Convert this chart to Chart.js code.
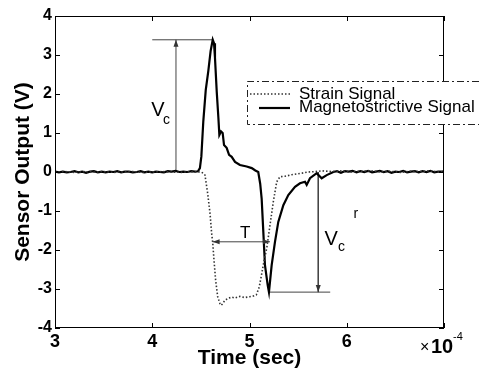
<!DOCTYPE html>
<html>
<head>
<meta charset="utf-8">
<script src="https://cdn.jsdelivr.net/npm/chart.js@4.4.0/dist/chart.umd.min.js"></script>
<style>
html,body{margin:0;padding:0;background:#fff}
#wrap{width:479px;height:371px}
</style>
</head>
<body>
<div id="wrap"><canvas id="chart"></canvas></div>
<script>
// time in units of 1e-4 s, output in V
const magTime = [3.00,3.04,3.08,3.12,3.16,3.20,3.24,3.28,3.32,3.36,3.40,3.44,3.48,3.52,3.56,3.60,3.64,3.68,3.72,3.76,3.80,3.84,3.88,3.92,3.96,4.00,4.04,4.08,4.12,4.16,4.20,4.24,4.28,4.32,4.36,4.40,4.44,4.47,
4.49,4.505,4.525,4.55,4.577,4.60,4.622,4.635,4.645,4.663,4.68,4.69,4.707,4.724,4.738,4.765,4.79,4.817,4.851,4.902,4.971,5.023,5.06,5.09,
5.11,5.125,5.142,5.159,5.187,5.20,5.228,5.262,5.296,5.348,5.399,5.468,5.519,5.571,5.588,5.622,5.691,5.742,5.794,5.862,
5.90,5.94,5.98,6.02,6.06,6.10,6.14,6.18,6.22,6.26,6.30,6.34,6.38,6.42,6.46,6.50,6.54,6.58,6.62,6.66,6.70,6.74,6.78,6.82,6.86,6.90,6.94,6.98,7.00]
const magVolt = [0.01,-0.01,0.01,-0.01,0.00,0.02,-0.01,0.01,-0.02,0.01,0.02,-0.01,0.01,-0.01,0.01,0.00,0.02,-0.01,0.01,0.01,-0.01,0.00,0.02,-0.01,0.01,-0.01,0.01,0.00,-0.01,0.02,0.01,0.03,0.00,0.01,0.00,0.02,0.01,0.02,
0.10,0.40,1.30,2.10,2.60,3.10,3.39,3.30,2.93,2.06,1.39,0.95,1.04,1.00,0.69,0.62,0.44,0.39,0.26,0.18,0.14,0.10,0.04,0.00,
-0.30,-0.68,-1.53,-2.39,-2.90,-3.08,-2.39,-1.79,-1.28,-0.85,-0.59,-0.38,-0.29,-0.25,-0.33,-0.16,-0.03,-0.16,-0.08,0.00,
0.02,-0.02,0.02,0.01,0.03,-0.01,0.02,0.00,0.03,-0.01,0.01,0.03,0.00,0.02,-0.02,0.01,0.00,0.03,-0.01,0.01,0.02,-0.01,0.02,0.00,0.03,-0.01,0.01,0.01,0.02]

const strainTime = [3.00,3.10,3.20,3.30,3.40,3.50,3.60,3.70,3.80,3.90,4.00,4.10,4.20,4.30,4.40,4.50,
4.525,4.542,4.570,4.594,4.611,4.621,4.635,4.652,4.673,4.697,4.71,4.748,4.78,4.817,4.85,4.90,4.95,5.00,5.04,5.07,
5.10,5.125,5.15,5.177,5.211,5.245,5.28,5.314,5.365,5.434,5.537,5.60,5.674,5.75,5.85,5.95,6.05,6.15,6.25,6.35,6.45,6.55,6.65,6.75,6.85,6.95,7.00]
const strainVolt = [0.00,0.01,-0.01,0.01,0.00,0.01,-0.01,0.00,0.01,-0.01,0.00,0.01,0.00,-0.01,0.01,0.00,
-0.03,-0.08,-0.55,-1.06,-1.58,-1.79,-2.26,-2.78,-3.20,-3.38,-3.42,-3.29,-3.24,-3.21,-3.23,-3.19,-3.22,-3.20,-3.18,-3.15,
-2.95,-2.62,-2.27,-1.96,-1.36,-0.76,-0.25,-0.12,-0.11,-0.07,-0.03,0.00,0.01,0.03,0.01,0.03,0.00,0.02,0.03,0.00,0.02,-0.01,0.02,0.01,0.03,0.00,0.01]

const seriesNames = ["Strain Signal","Magnetostrictive Signal"]
const xTicks = [3,4,5,6,7]
const yTicks = [-4,-3,-2,-1,0,1,2,3,4]

// guide lines
const vcLineX = [4.0,4.622], vcLineY = [3.39,3.39]
const vcArrowX = [4.244,4.244], vcArrowY = [0,3.39]
const tArrowX = [4.621,5.21], tArrowY = [-1.79,-1.79]
const vcrLineX = [5.2,5.83], vcrLineY = [-3.08,-3.08]
const vcrArrowX = [5.707,5.707], vcrArrowY = [0,-3.08]

function pts(xs,ys){
return xs.map((x,i)=>({x:x,y:ys[i]}))
}

function guide(xs,ys){
return {data:pts(xs,ys),borderColor:"#444",borderWidth:1,pointRadius:0,tension:0}
}

Chart.defaults.font.family = "'Liberation Sans', Arial, sans-serif"
Chart.defaults.color = "#000"

function arrow(ctx,x,y,dir){
const L=7,W=2.5
ctx.beginPath()
ctx.moveTo(x,y)
if(dir=="up"){ctx.lineTo(x-W,y+L);ctx.lineTo(x+W,y+L)}
if(dir=="down"){ctx.lineTo(x-W,y-L);ctx.lineTo(x+W,y-L)}
if(dir=="left"){ctx.lineTo(x+L,y-W);ctx.lineTo(x+L,y+W)}
if(dir=="right"){ctx.lineTo(x-L,y-W);ctx.lineTo(x-L,y+W)}
ctx.closePath()
ctx.fill()
}

const frame = {
id:"frame",
afterDraw(chart){
const ctx = chart.ctx
const a = chart.chartArea
const xs = chart.scales.x, ys = chart.scales.y
ctx.save()
ctx.strokeStyle="#000"
ctx.fillStyle="#000"
ctx.lineWidth=1
ctx.strokeRect(a.left+0.5,a.top+0.5,a.right-a.left-1,a.bottom-a.top-1)

ctx.beginPath()
xTicks.forEach(v=>{
const px=Math.round(xs.getPixelForValue(v))+0.5
ctx.moveTo(px,a.bottom);ctx.lineTo(px,a.bottom-5)
ctx.moveTo(px,a.top);ctx.lineTo(px,a.top+5)
})
yTicks.forEach(v=>{
const py=Math.round(ys.getPixelForValue(v))+0.5
ctx.moveTo(a.left,py);ctx.lineTo(a.left+5,py)
ctx.moveTo(a.right,py);ctx.lineTo(a.right-5,py)
})
ctx.stroke()

ctx.fillStyle="#333"
arrow(ctx,xs.getPixelForValue(vcArrowX[1]),ys.getPixelForValue(vcArrowY[1]),"up")
arrow(ctx,xs.getPixelForValue(vcrArrowX[1]),ys.getPixelForValue(vcrArrowY[1]),"down")
arrow(ctx,xs.getPixelForValue(tArrowX[0]),ys.getPixelForValue(tArrowY[0]),"left")
arrow(ctx,xs.getPixelForValue(tArrowX[1]),ys.getPixelForValue(tArrowY[1]),"right")

ctx.fillStyle="#000"
ctx.textBaseline="alphabetic"
ctx.textAlign="left"
const X=v=>xs.getPixelForValue(v), Y=v=>ys.getPixelForValue(v)
ctx.font="20px 'Liberation Sans', Arial"
ctx.fillText("V",X(3.99),Y(1.44))
ctx.fillText("V",X(5.77),Y(-1.88))
ctx.font="14px 'Liberation Sans', Arial"
ctx.fillText("c",X(4.11),Y(1.23))
ctx.fillText("c",X(5.91),Y(-2.03))
ctx.fillText("r",X(6.07),Y(-1.18))
ctx.font="17px 'Liberation Sans', Arial"
ctx.textAlign="center"
ctx.fillText("T",X(4.955),Y(-1.70))

// exponent of the time axis
ctx.textAlign="left"
ctx.font="16px 'Liberation Sans', Arial"
ctx.fillText("\u00d7",420,352)
ctx.font="bold 20px 'Liberation Sans', Arial"
ctx.fillText("10",431,353)
ctx.font="11px 'Liberation Sans', Arial"
ctx.fillText("-4",453,340)

// legend
const lx=247, ly=81, lh=43
ctx.fillStyle="#fff"
ctx.fillRect(lx,ly,chart.width-lx,lh)
ctx.strokeStyle="#222"
ctx.setLineDash([7,3,2,3])
ctx.beginPath()
ctx.moveTo(chart.width,ly+0.5);ctx.lineTo(lx+0.5,ly+0.5);ctx.lineTo(lx+0.5,ly+lh+0.5);ctx.lineTo(chart.width,ly+lh+0.5)
ctx.stroke()
const ds=chart.data.datasets
ctx.strokeStyle=ds[0].borderColor
ctx.lineWidth=ds[0].borderWidth
ctx.setLineDash(ds[0].borderDash)
ctx.beginPath();ctx.moveTo(250,94);ctx.lineTo(290,94);ctx.stroke()
ctx.setLineDash([])
ctx.strokeStyle=ds[1].borderColor
ctx.lineWidth=ds[1].borderWidth
ctx.beginPath();ctx.moveTo(259,108);ctx.lineTo(290,108);ctx.stroke()
ctx.fillStyle="#000"
ctx.font="17px 'Liberation Sans', Arial"
ctx.textBaseline="middle"
ctx.fillText(ds[0].label,299,94)
ctx.fillText(ds[1].label,299,107)
ctx.restore()
}
}

new Chart(document.getElementById("chart"),{
type:"line",
data:{
datasets:[
{label:seriesNames[0],data:pts(strainTime,strainVolt),borderColor:"#333",borderWidth:1.6,borderDash:[1.5,2],pointRadius:0,tension:0},
{label:seriesNames[1],data:pts(magTime,magVolt),borderColor:"#000",borderWidth:2.2,pointRadius:0,tension:0},
guide(vcLineX,vcLineY),
guide(vcArrowX,vcArrowY),
guide(tArrowX,tArrowY),
guide(vcrLineX,vcrLineY),
guide(vcrArrowX,vcrArrowY)
]
},
options:{
responsive:true,
maintainAspectRatio:false,
animation:false,
devicePixelRatio:1,
layout:{padding:{top:16,right:35,left:0,bottom:0}},
plugins:{legend:{display:false},tooltip:{enabled:false}},
scales:{
x:{
type:"linear",min:3,max:7,
grid:{display:false,drawTicks:false},
border:{display:false},
afterBuildTicks:s=>{s.ticks=xTicks.map(v=>({value:v}))},
afterFit:s=>{s.height=43},
ticks:{font:{size:18,weight:"bold"},padding:3,autoSkip:false,maxRotation:0,
callback:v=>v==7?"":v},
title:{display:true,text:"Time (sec)",font:{size:21,weight:"bold"},padding:{top:0,bottom:0}}
},
y:{
type:"linear",min:-4,max:4,
grid:{display:false,drawTicks:false},
border:{display:false},
afterBuildTicks:s=>{s.ticks=yTicks.map(v=>({value:v}))},
afterFit:s=>{s.width=55},
ticks:{font:{size:16,weight:"bold"},padding:3},
title:{display:true,text:"Sensor Output (V)",font:{size:21,weight:"bold"},padding:{top:11,bottom:0}}
}
}
},
plugins:[frame]
})
</script>
</body>
</html>
